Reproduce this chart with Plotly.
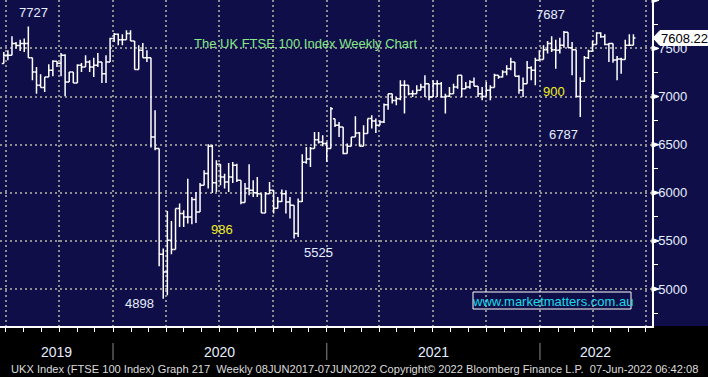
import plotly.graph_objects as go
import pandas as pd

# ---------------- data (weekly OHLC) ----------------
first_week = "2019-06-28"
n_weeks = 155
week_dates = pd.date_range(first_week, periods=n_weeks, freq="7D")

opens = [7342, 7430, 7429, 7550, 7530, 7550, 7550, 7404, 7255, 7117,
         7093, 7204, 7273, 7366, 7345, 7429, 7152, 7255, 7141, 7325,
         7307, 7360, 7307, 7325, 7360, 7238, 7360, 7602, 7647, 7591,
         7591, 7654, 7577, 7280, 7481, 7404, 7404, 6580, 6459, 5361,
         5178, 5507, 5410, 5836, 5784, 5749, 5749, 5929, 5801, 6078,
         6200, 6484, 6105, 6296, 6165, 6113, 6165, 6286, 6130, 5900,
         6044, 6026, 6000, 5991, 5791, 5990, 6026, 5840, 5910, 5990,
         5905, 5870, 5577, 5910, 6316, 6350, 6460, 6550, 6528, 6511,
         6460, 6770, 6701, 6684, 6407, 6483, 6580, 6622, 6483, 6615,
         6771, 6746, 6701, 6736, 6915, 7030, 6960, 6978, 7117, 7117,
         7030, 7030, 7065, 7100, 7134, 6996, 7134, 7134, 6996, 7003,
         7030, 7100, 7221, 7082, 7100, 7152, 7107, 7030, 7000, 7065,
         7093, 7221, 7204, 7255, 7290, 7360, 7210, 7065, 7134, 7300,
         7273, 7377, 7384, 7487, 7550, 7487, 7481, 7533, 7668, 7508,
         7487, 7000, 7160, 7404, 7470, 7540, 7660, 7620, 7540, 7550,
         7380, 7390, 7384, 7533, 7533]
highs = [7463, 7481, 7626, 7567, 7591, 7602, 7727, 7404, 7307, 7231,
         7204, 7335, 7377, 7370, 7453, 7439, 7255, 7255, 7335, 7349,
         7429, 7377, 7404, 7453, 7360, 7429, 7612, 7661, 7654, 7647,
         7688, 7688, 7577, 7533, 7557, 7481, 7404, 6857, 6459, 5420,
         5811, 5708, 5836, 5888, 5818, 6147, 5957, 6009, 6102, 6234,
         6504, 6500, 6338, 6296, 6199, 6310, 6320, 6303, 6130, 6102,
         6296, 6130, 6165, 5991, 6009, 6113, 6026, 5957, 6033, 6026,
         5957, 5870, 5940, 6400, 6476, 6476, 6632, 6632, 6597, 6528,
         6892, 6770, 6736, 6684, 6511, 6580, 6795, 6632, 6701, 6771,
         6805, 6771, 6753, 6927, 7030, 7030, 6996, 7169, 7169, 7117,
         7065, 7117, 7134, 7221, 7134, 7169, 7169, 7152, 7030, 7100,
         7134, 7221, 7221, 7152, 7169, 7197, 7107, 7100, 7152, 7117,
         7238, 7221, 7273, 7325, 7404, 7360, 7221, 7197, 7370, 7314,
         7404, 7481, 7533, 7577, 7626, 7591, 7612, 7681, 7668, 7567,
         7487, 7200, 7420, 7487, 7580, 7668, 7668, 7647, 7557, 7550,
         7420, 7404, 7591, 7647, 7647]
lows = [7342, 7377, 7429, 7498, 7474, 7463, 7404, 7169, 7030, 7093,
        7048, 7204, 7210, 7307, 7210, 7003, 7152, 7141, 7141, 7255,
        7307, 7255, 7204, 7307, 7141, 7141, 7360, 7567, 7533, 7533,
        7591, 7577, 7280, 7280, 7404, 7360, 6470, 6442, 5237, 4898,
        4935, 5361, 5410, 5645, 5645, 5680, 5673, 5687, 5801, 6078,
        6044, 5998, 6009, 6078, 6044, 6009, 6102, 6113, 5881, 5900,
        5974, 5957, 5957, 5791, 5791, 5990, 5784, 5836, 5905, 5784,
        5732, 5524, 5541, 5905, 6303, 6268, 6460, 6511, 6483, 6320,
        6459, 6684, 6580, 6400, 6407, 6483, 6580, 6483, 6483, 6615,
        6667, 6622, 6701, 6726, 6864, 6927, 6909, 6961, 6823, 7013,
        6996, 7030, 7065, 6996, 6961, 6996, 6996, 6996, 6823, 6996,
        7030, 7082, 6996, 7082, 7082, 7107, 6996, 6961, 7000, 6961,
        7093, 7186, 7197, 7221, 7273, 7210, 7030, 6996, 7134, 7169,
        7117, 7377, 7384, 7446, 7463, 7290, 7446, 7508, 7508, 7221,
        6996, 6788, 7150, 7390, 7470, 7540, 7612, 7533, 7360, 7350,
        7169, 7238, 7384, 7533, 7533]
closes = [7430, 7429, 7550, 7530, 7550, 7550, 7404, 7255, 7117, 7093,
          7204, 7273, 7366, 7345, 7429, 7152, 7255, 7141, 7325, 7307,
          7360, 7307, 7325, 7360, 7238, 7360, 7602, 7647, 7591, 7591,
          7654, 7577, 7280, 7481, 7404, 7404, 6580, 6459, 5361, 5178,
          5507, 5410, 5836, 5784, 5749, 5749, 5929, 5801, 6078, 6200,
          6484, 6105, 6296, 6165, 6113, 6165, 6286, 6130, 5900, 6044,
          6026, 6000, 5991, 5791, 5990, 6026, 5840, 5910, 5990, 5905,
          5870, 5577, 5910, 6316, 6350, 6460, 6550, 6528, 6511, 6460,
          6873, 6701, 6684, 6407, 6483, 6580, 6622, 6483, 6615, 6771,
          6746, 6701, 6736, 6915, 7030, 6960, 6978, 7117, 7117, 7030,
          7030, 7065, 7100, 7134, 6996, 7134, 7134, 6996, 7003, 7030,
          7100, 7221, 7082, 7100, 7152, 7107, 7030, 7000, 7065, 7093,
          7221, 7204, 7255, 7290, 7360, 7210, 7065, 7134, 7300, 7273,
          7377, 7384, 7487, 7550, 7487, 7481, 7533, 7668, 7508, 7487,
          7000, 7160, 7404, 7470, 7540, 7660, 7620, 7540, 7550, 7380,
          7390, 7384, 7533, 7533, 7608.22]

y_tick_values = [5000, 5500, 6000, 6500, 7000, 7500, 8000]
y_tick_labels = ["5000", "5500", "6000", "6500", "7000", "7500", ""]
last_price = 7608.22
year_labels = ["2019", "2020", "2021", "2022"]
year_starts = ["2019-01-01", "2020-01-01", "2021-01-01", "2022-01-01"]

# ---------------- layout geometry ----------------
W, H = 708, 377
ML, MR, MT, MB = 0, 56, 0, 51
PW, PH = W - ML - MR, H - MT - MB
Y0, Y1 = 4616, 8003
X_RANGE = [pd.Timestamp("2019-06-21 12:00"), pd.Timestamp("2022-07-11 19:00")]

NAVY = "#0f0e48"
GRID = "#8e8e8e"
LBL = "#e6eeff"
FONT = "Liberation Sans, Arial, sans-serif"


def px_x(px):
    return px / PW


def px_y(py):
    return 1 - py / PH


def val_y(v):
    return (v - Y0) / (Y1 - Y0)


fig = go.Figure()
fig.add_trace(go.Ohlc(
    x=week_dates, open=opens, high=highs, low=lows, close=closes,
    increasing=dict(line=dict(color="white", width=1.5)),
    decreasing=dict(line=dict(color="white", width=1.5)),
    tickwidth=0.5, hoverinfo="skip", showlegend=False,
))

shapes = []
# black footer band
shapes.append(dict(type="rect", xref="paper", yref="paper",
                   x0=-0.01, x1=1.2, y0=-(MB + 5) / PH, y1=0,
                   fillcolor="black", line=dict(width=0), layer="below"))
# right-axis triangle markers
for v in y_tick_values:
    yc = val_y(v)
    dy = 2.5 / PH
    shapes.append(dict(type="path", xref="paper", yref="paper",
                       path=f"M {px_x(652)},{yc + dy} L {px_x(659)},{yc} L {px_x(652)},{yc - dy} Z",
                       fillcolor="white", line=dict(color="white", width=1), layer="above"))
# last price callout
yc = val_y(last_price)
top, bot = yc + 7.5 / PH, yc - 7.5 / PH
shapes.append(dict(type="path", xref="paper", yref="paper",
                   path=(f"M {px_x(653)},{yc} L {px_x(660)},{top} L {px_x(708)},{top} "
                         f"L {px_x(708)},{bot} L {px_x(660)},{bot} Z"),
                   fillcolor="white", line=dict(color="white", width=1), layer="above"))
# year separators
for d in year_starts[1:]:
    shapes.append(dict(type="line", xref="x", yref="paper", x0=d, x1=d,
                       y0=px_y(343), y1=px_y(360), line=dict(color="#8a8a8a", width=1)))
# url box
shapes.append(dict(type="rect", xref="paper", yref="paper",
                   x0=px_x(473), x1=px_x(631), y0=px_y(309), y1=px_y(292),
                   line=dict(color="white", width=1), fillcolor="rgba(0,0,0,0)"))

ann = []


def add_text(txt, x, y, color, size=13, xanchor="center"):
    ann.append(dict(text=txt, xref="paper", yref="paper", x=px_x(x), y=px_y(y),
                    xanchor=xanchor, yanchor="middle", showarrow=False,
                    font=dict(family=FONT, size=size, color=color)))


add_text("7727", 33, 13, LBL)
add_text("7687", 550, 15, LBL)
add_text("The UK FTSE 100 Index Weekly Chart", 305, 43, "#86e886")
add_text("900", 554, 92, "#f0f020")
add_text("6787", 563, 134, LBL)
add_text("986", 222, 229, "#f0f020")
add_text("5525", 318, 252, LBL)
add_text("4898", 139, 303, LBL)
add_text("www.marketmatters.com.au", 552, 301, "#19dce8")
add_text(f"{last_price:.2f}", 684, 38.5, "black")

# year labels, centered on visible part of each year
for lab, s in zip(year_labels, year_starts):
    a = max(pd.Timestamp(s), X_RANGE[0])
    b = min(pd.Timestamp(s) + pd.DateOffset(years=1), X_RANGE[1])
    mid = a + (b - a) / 2
    ann.append(dict(text=lab, xref="x", yref="paper", x=mid, y=px_y(352),
                    xanchor="center", yanchor="middle", showarrow=False,
                    font=dict(family=FONT, size=14, color=LBL)))

add_text("UKX Index (FTSE 100 Index) Graph 217  Weekly 08JUN2017-07JUN2022 "
         "Copyright\u00a9 2022 Bloomberg Finance L.P.  07-Jun-2022 06:42:08",
         354, 369, "#dcdcdc", size=11.1)

fig.update_layout(
    width=W, height=H,
    margin=dict(l=ML, r=MR, t=MT, b=MB, pad=0),
    paper_bgcolor=NAVY, plot_bgcolor=NAVY,
    showlegend=False,
    shapes=shapes, annotations=ann,
    xaxis=dict(type="date", range=X_RANGE, rangeslider=dict(visible=False),
               showgrid=True, gridcolor=GRID, griddash="2px,3px", gridwidth=2,
               tick0="2019-01-01", dtick="M3", ticks="outside", ticklen=4,
               tickcolor="white", tickwidth=1, showticklabels=False,
               showline=True, linecolor="white", linewidth=2, zeroline=False,
               minor=dict(tick0="2019-01-01", dtick="M1", ticks="outside", ticklen=4,
                          tickcolor="white", tickwidth=1, showgrid=False),
               fixedrange=True),
    yaxis=dict(side="right", range=[Y0, Y1], tickmode="array",
               tickvals=y_tick_values, ticktext=y_tick_labels,
               showgrid=True, gridcolor=GRID, griddash="2px,3px", gridwidth=2,
               ticks="outside", ticklen=2, tickcolor="white", tickwidth=1,
               minor=dict(dtick=250, tick0=0, ticks="outside", ticklen=4,
                          tickcolor="white", tickwidth=1, showgrid=False),
               showline=True, linecolor="white", linewidth=1.5, zeroline=False,
               tickfont=dict(family=FONT, size=13, color=LBL), fixedrange=True),
)

fig.write_html("out.html", config=dict(displayModeBar=False),
               post_script="document.body.style.margin='0';document.body.style.background='#000';")
